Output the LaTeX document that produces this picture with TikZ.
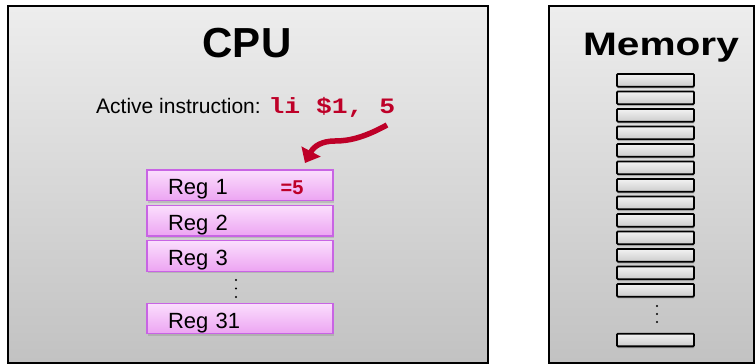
\documentclass[tikz,border=0pt]{standalone}
\usepackage{fontspec}
\setmainfont{Liberation Sans}
\newfontfamily\codefont{Liberation Mono}
\usetikzlibrary{arrows.meta,shadows}
\definecolor{rouge}{RGB}{190,0,40}
\definecolor{bordreg}{RGB}{200,100,228}
\definecolor{hautreg}{RGB}{251,222,253}
\definecolor{basreg}{RGB}{236,164,242}

\begin{document}
\begin{tikzpicture}[x=1pt,y=-1pt]
	\tikzset{boite/.style={draw=black, line width=1.6pt, top color=black!7, bottom color=black!24, drop shadow={opacity=0.25, shadow xshift=1pt, shadow yshift=-1.5pt}},
		registre/.style={draw=bordreg, line width=1.4pt, top color=hautreg, bottom color=basreg, minimum width=186pt, minimum height=30.5pt, inner xsep=21pt, inner ysep=0pt, text width=144pt, align=left, text height=19pt, text depth=0pt, font=\fontsize{22}{24}\selectfont, drop shadow={opacity=0.3, shadow xshift=0.5pt, shadow yshift=-2pt}},
		casemem/.style={draw=black, line width=1.8pt, rounded corners=1pt, top color=black!5, bottom color=black!20, minimum width=77pt, minimum height=12.7pt, inner sep=0pt, drop shadow={opacity=0.3, shadow xshift=0.5pt, shadow yshift=-2pt}},
		fleche/.style={draw=rouge, line width=5.5pt, -{Triangle[length=13pt,width=21pt]}}};

	\useasboundingbox (0,0) rectangle (756,364);

	\node[boite, anchor=north west, minimum width=480pt, minimum height=357pt] (cpu) at (7,5) {};
	\node[boite, anchor=north west, minimum width=205pt, minimum height=357pt] (mem) at (548,5) {};

	\node[anchor=base, font=\fontsize{42}{46}\selectfont\bfseries] (tcpu) at (247,57) {CPU};
	\node[anchor=base, font=\fontsize{32.5}{34}\selectfont\bfseries] (tmem) at (661,56) {\scalebox{1.25}[1]{Memory}};

	\node[anchor=base west, inner sep=0pt, font=\fontsize{21}{24}\selectfont] (instr) at (96,113)
		{Active instruction: \textcolor{rouge}{\codefont\bfseries\fontsize{22}{24}\selectfont\scalebox{1.2}[1]{li \$1, 5}}};

	\node[registre] (r1)  at (240,185.4) {Reg 1};
	\node[registre] (r2)  at (240,220.9) {Reg 2};
	\node[registre] (r3)  at (240,256.0) {Reg 3};
	\node[registre] (r31) at (240,318.5) {Reg 31};
	\node[anchor=base, inner sep=0pt, text=rouge, font=\fontsize{20}{22}\selectfont\bfseries] (v1) at (292,194.3) {=5};

	\foreach \y in {280,288.5,297} \fill (236,\y) circle (1.1pt);

	\foreach \i in {0,...,12} \node[casemem] (m\i) at (655.5,80.3+17.5*\i) {};
	\node[casemem] (mfin) at (655.5,340) {};
	\foreach \y in {306,314,322} \fill (657,\y) circle (1.1pt);

	\coordinate (depart) at (387,125);
	\coordinate (arrivee) at (305,163);
	\draw[fleche] (depart) .. controls (365,137) and (350,141) .. (335,141) .. controls (322,141) and (314,146) .. (arrivee);

\end{tikzpicture}
\end{document}
